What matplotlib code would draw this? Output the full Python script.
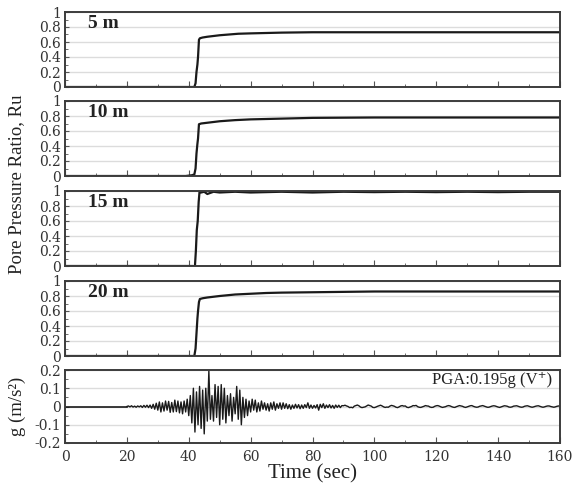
import numpy as np
import matplotlib
matplotlib.use("Agg")
import matplotlib.pyplot as plt
from matplotlib.ticker import MultipleLocator, FuncFormatter

plt.rcParams['font.family'] = ['Liberation Serif', 'DejaVu Serif']

# ---------------- data ----------------
depth_labels = ["5 m", "10 m", "15 m", "20 m"]

t_5 = [0, 40, 41.8, 42.2, 42.5, 42.8, 43.0, 43.3, 43.6, 44.5, 46, 48, 50, 53, 56, 60, 65, 70, 80, 100, 160]
ru_5 = [0, 0, 0, 0.05, 0.2, 0.3, 0.4, 0.63, 0.65, 0.66, 0.67, 0.68, 0.69, 0.70, 0.71, 0.715, 0.72, 0.725, 0.73, 0.73, 0.73]

t_10 = [0, 39, 41, 41.8, 42.2, 42.5, 42.8, 43.0, 43.3, 44, 46, 48, 50, 55, 60, 70, 80, 100, 160]
ru_10 = [0, 0, 0.01, 0.02, 0.1, 0.3, 0.43, 0.5, 0.69, 0.70, 0.71, 0.72, 0.73, 0.745, 0.755, 0.765, 0.775, 0.78, 0.78]

t_15 = [0, 41.3, 41.8, 42.0, 42.3, 42.6, 42.9, 43.2, 43.5, 44, 45, 46, 48, 50, 55, 60, 65, 70, 75, 80, 90, 100, 110, 120, 130, 140, 150, 160]
ru_15 = [0, 0, -0.01, 0.0, 0.2, 0.48, 0.6, 0.85, 1.0, 0.98, 0.99, 0.96, 0.99, 0.98, 0.99, 0.98, 0.985, 0.99, 0.985, 0.98, 0.99, 0.985, 0.99, 0.985, 0.99, 0.985, 0.99, 0.99]

t_20 = [0, 41.8, 42.2, 42.5, 42.8, 43.0, 43.3, 43.6, 44.5, 46, 48, 50, 55, 60, 65, 70, 80, 90, 100, 160]
ru_20 = [0, 0, 0.1, 0.3, 0.5, 0.6, 0.72, 0.76, 0.77, 0.78, 0.79, 0.80, 0.82, 0.83, 0.84, 0.845, 0.85, 0.855, 0.86, 0.86]

ru_times = [t_5, t_10, t_15, t_20]
ru_values = [ru_5, ru_10, ru_15, ru_20]

acc_t0 = 20.0
acc_dt = 0.5
acc = [
    0, 0.003, -0.002, 0.004, -0.003, 0.002, -0.004, 0.003, -0.002, 0.004,
    -0.005, 0.006, -0.004, 0.007, -0.006, 0.008, -0.01, 0.012, -0.015, 0.018,
    -0.02, 0.025, -0.03, 0.02, -0.025, 0.03, -0.02, 0.028, -0.032, 0.022,
    -0.03, 0.035, -0.028, 0.03, -0.035, 0.025, -0.04, 0.03, -0.03, 0.04,
    -0.05, 0.06, -0.09, 0.1, -0.14, 0.08, -0.1, 0.11, -0.12, 0.09,
    -0.15, 0.1, -0.08, 0.195, -0.07, 0.06, -0.08, 0.12, -0.06, 0.11,
    -0.1, 0.12, -0.07, 0.1, -0.09, 0.06, -0.05, 0.07, -0.08, 0.05,
    -0.04, 0.11, -0.07, 0.09, -0.1, 0.05, -0.06, 0.04, -0.05, 0.03,
    -0.03, 0.04, -0.02, 0.035, -0.03, 0.02, -0.025, 0.03, -0.015, 0.02,
    -0.02, 0.015, -0.025, 0.02, -0.015, 0.025, -0.02, 0.015, -0.01, 0.02,
    -0.015, 0.02, -0.01, 0.015, -0.012, 0.01, -0.015, 0.008, -0.01, 0.012,
    -0.008, 0.01, -0.012, 0.008, -0.01, 0.01, -0.006, 0.02, -0.01, 0.008,
    -0.01, 0.006, -0.008, 0.01, -0.02, 0.012, -0.006, 0.015, -0.01, 0.008,
    -0.006, 0.01, -0.008, 0.006, -0.01, 0.008, -0.005, 0.007, -0.006, 0.005,
    0.004, 0.007, 0.003, 0.0, -0.006, -0.004, -0.007, 0.002, 0.005, 0.008,
    0.004, -0.003, -0.006, -0.004, -0.002, 0.003, 0.008, 0.005, 0.002, -0.005,
    -0.006, -0.003, 0.001, 0.004, 0.007, 0.003, -0.002, -0.005, -0.003, -0.004,
    0.002, 0.006, 0.004, 0.001, -0.004, -0.006, -0.002, 0.003, 0.005, 0.002,
    0.003, -0.004, -0.006, -0.003, 0.0, 0.005, 0.004, 0.006, -0.001, -0.004,
    -0.005, -0.002, 0.001, 0.005, 0.003, 0.002, -0.003, -0.005, -0.004, 0.001,
    0.004, 0.005, 0.002, -0.002, -0.005, -0.003, -0.001, 0.003, 0.005, 0.003,
    -0.001, -0.004, -0.005, -0.001, 0.002, 0.005, 0.003, 0.001, -0.003, -0.005,
    -0.002, 0.001, 0.004, 0.005, 0.001, -0.002, -0.004, -0.003, 0.001, 0.003,
    0.005, 0.002, -0.001, -0.004, -0.004, -0.001, 0.002, 0.004, 0.003, 0.0,
    -0.003, -0.005, -0.002, 0.001, 0.004, 0.003, 0.001, -0.003, -0.004, -0.002,
    0.002, 0.003, 0.004, 0.001, -0.002, -0.004, -0.003, 0.001, 0.003, 0.004,
    0.001, -0.002, -0.004, -0.002, 0.001, 0.003, 0.004, 0.001, -0.002, -0.004,
    -0.002, 0.001, 0.003, 0.003, 0.0, -0.002, -0.004, -0.002, 0.001, 0.003,
    0.001,
]
acc_time = acc_t0 + acc_dt * np.arange(len(acc))

pga_label = "PGA:0.195g (V\u207a)"

# ---------------- figure ----------------
W, H = 573, 488
fig = plt.figure(figsize=(W / 100, H / 100), dpi=100)

left = 65 / W
width = (560 - 65) / W
panels_px = [(12, 87), (101, 176), (191, 266), (281, 356), (370, 443)]

spine_color = "#3c3c3c"
grid_color = "#dcdcdc"
line_color = "#1a1a1a"
tick_font = 'DejaVu Serif'

axes = []
for top, bot in panels_px:
    ax = fig.add_axes([left, 1 - bot / H, width, (bot - top) / H])
    axes.append(ax)

fmt = FuncFormatter(lambda v, p: ("%g" % round(v, 3)))

for i, ax in enumerate(axes):
    for s in ax.spines.values():
        s.set_color(spine_color)
        s.set_linewidth(1.4)
    ax.set_xlim(0, 160)
    ax.xaxis.set_major_locator(MultipleLocator(20))
    ax.xaxis.set_minor_locator(MultipleLocator(10))
    ax.tick_params(axis='both', labelfontfamily=tick_font, labelcolor='#333333')
    ax.tick_params(axis='x', which='both', direction='in', top=False, color='#555555')
    ax.tick_params(axis='x', which='major', length=4)
    ax.tick_params(axis='x', which='minor', length=2)
    ax.tick_params(axis='y', which='both', direction='in', right=False, color='#555555', labelsize=10, pad=3)
    ax.tick_params(axis='y', which='major', length=3)
    ax.tick_params(axis='y', which='minor', length=2)
    ax.yaxis.set_major_formatter(fmt)
    ax.grid(axis='y', which='major', color=grid_color, linewidth=1.0)
    ax.set_axisbelow(True)
    if i < 4:
        ax.tick_params(axis='x', labelbottom=False)
    else:
        ax.tick_params(axis='x', labelsize=10, pad=5)

for i in range(4):
    ax = axes[i]
    ax.set_ylim(0, 1)
    ax.yaxis.set_major_locator(MultipleLocator(0.2))
    ax.yaxis.set_minor_locator(MultipleLocator(0.1))
    ax.plot(ru_times[i], ru_values[i], color=line_color, linewidth=1.6, solid_joinstyle='round')
    ax.text(0.046, 0.85, depth_labels[i], transform=ax.transAxes, fontsize=14,
            fontweight='bold', va='center', ha='left', color='#222222')

ax = axes[4]
ax.set_ylim(-0.2, 0.2)
ax.yaxis.set_major_locator(MultipleLocator(0.1))
ax.yaxis.set_minor_locator(MultipleLocator(0.05))
ax.axhline(0, color=line_color, linewidth=1.2, xmin=0, xmax=20 / 160)
ax.plot(acc_time, acc, color=line_color, linewidth=1.0)
ax.text(0.985, 0.86, pga_label, transform=ax.transAxes, fontsize=12,
        ha='right', va='center', color='#222222')
ax.set_xlabel("Time (sec)", fontsize=15, labelpad=0, color='#222222')

fig.text(17 / W, 1 - 184 / H, "Pore Pressure Ratio, Ru", rotation=90,
         fontsize=13.5, ha='center', va='center', color='#222222')
fig.text(17 / W, 1 - 406 / H, "g (m/s\u00b2)", rotation=90,
         fontsize=13.5, ha='center', va='center', color='#222222')

fig.savefig("out.png", dpi=100)
